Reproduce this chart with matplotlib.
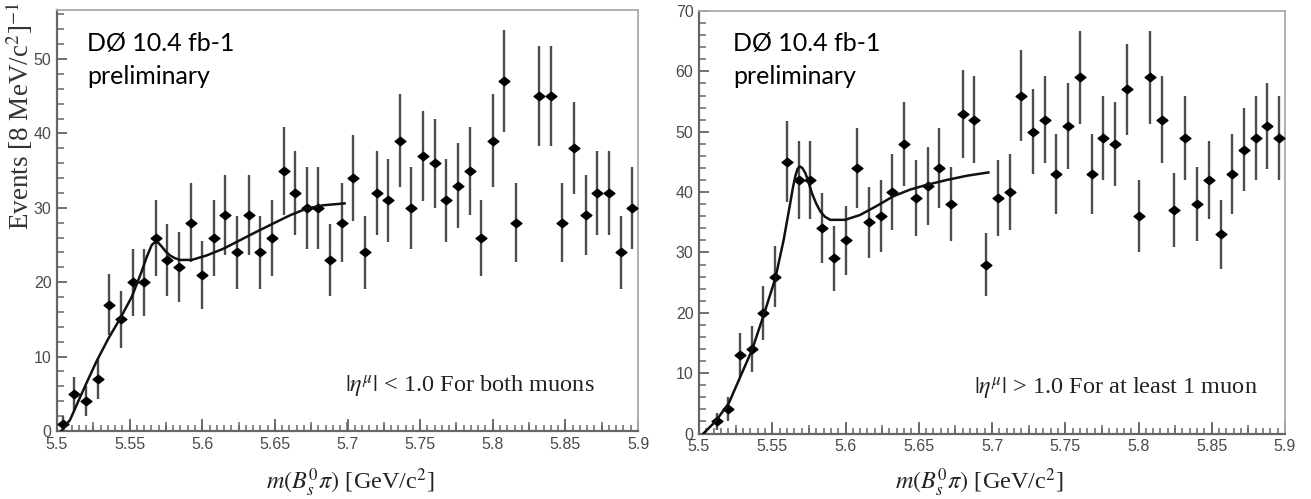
import numpy as np
import matplotlib
matplotlib.use("Agg")
import matplotlib.pyplot as plt
from matplotlib.ticker import MultipleLocator, FormatStrFormatter, NullFormatter
from matplotlib.path import Path

# Data (8 MeV bins)
mass_left = [5.504, 5.512, 5.520, 5.528, 5.536, 5.544, 5.552, 5.560, 5.568, 5.576,
             5.584, 5.592, 5.600, 5.608, 5.616, 5.624, 5.632, 5.640, 5.648, 5.656,
             5.664, 5.672, 5.680, 5.688, 5.696, 5.704, 5.712, 5.720, 5.728, 5.736,
             5.744, 5.752, 5.760, 5.768, 5.776, 5.784, 5.792, 5.800, 5.808, 5.816,
             5.832, 5.840, 5.848, 5.856, 5.864, 5.872, 5.880, 5.888, 5.896]
events_left = [1, 5, 4, 7, 17, 15, 20, 20, 26, 23,
               22, 28, 21, 26, 29, 24, 29, 24, 26, 35,
               32, 30, 30, 23, 28, 34, 24, 32, 31, 39,
               30, 37, 36, 31, 33, 35, 26, 39, 47, 28,
               45, 45, 28, 38, 29, 32, 32, 24, 30]

mass_right = [5.512, 5.520, 5.528, 5.536, 5.544, 5.552, 5.560, 5.568, 5.576, 5.584,
              5.592, 5.600, 5.608, 5.616, 5.624, 5.632, 5.640, 5.648, 5.656, 5.664,
              5.672, 5.680, 5.688, 5.696, 5.704, 5.712, 5.720, 5.728, 5.736, 5.744,
              5.752, 5.760, 5.768, 5.776, 5.784, 5.792, 5.800, 5.808, 5.816, 5.824,
              5.832, 5.840, 5.848, 5.856, 5.864, 5.872, 5.880, 5.888, 5.896]
events_right = [2, 4, 13, 14, 20, 26, 45, 42, 42, 34,
                29, 32, 44, 35, 36, 40, 48, 39, 41, 44,
                38, 53, 52, 28, 39, 40, 56, 50, 52, 43,
                51, 59, 43, 49, 48, 57, 36, 59, 52, 37,
                49, 38, 42, 33, 43, 47, 49, 51, 49]

# fit curves, points
fit_left_mass = [5.503, 5.509, 5.5158, 5.5216, 5.5273, 5.5353, 5.5434, 5.5514, 5.5578,
                 5.5618, 5.5652, 5.5675, 5.5698, 5.5721, 5.575, 5.5778, 5.581, 5.5847,
                 5.5927, 5.603, 5.6145, 5.626, 5.6375, 5.6489, 5.6604, 5.6719, 5.6833,
                 5.698]
fit_left_events = [0.0, 1.5, 4.5, 7.0, 9.4, 12.4, 15.1, 18.0, 21.2,
                   23.4, 25.0, 25.4, 25.3, 24.8, 24.1, 23.6, 23.25, 23.0,
                   23.0, 23.6, 24.5, 25.65, 26.8, 27.9, 29.0, 29.9, 30.35,
                   30.6]

fit_right_mass = [5.503, 5.5111, 5.5203, 5.5282, 5.5362, 5.5442, 5.5521, 5.5578, 5.5623,
                  5.564, 5.5657, 5.5672, 5.5687, 5.5705, 5.5726, 5.5748, 5.5771, 5.580,
                  5.5828, 5.586, 5.5896, 5.5997, 5.6099, 5.6213, 5.6326, 5.644, 5.6554,
                  5.6691, 5.6827, 5.6975]
fit_right_events = [0.0, 1.96, 5.0, 9.4, 13.85, 19.65, 25.7, 32.1, 38.2,
                    40.6, 42.6, 43.8, 44.25, 44.0, 43.15, 41.6, 39.8, 38.1,
                    36.8, 35.9, 35.4, 35.4, 36.2, 37.7, 39.3, 40.4, 41.2,
                    42.0, 42.7, 43.25]

plt.rcParams['font.family'] = ['Liberation Serif', 'DejaVu Serif']
plt.rcParams['mathtext.fontset'] = 'stix'

W, H = 1311, 499
fig = plt.figure(figsize=(W / 100, H / 100), dpi=100)

def px_rect(x0, y0, x1, y1):
    return [x0 / W, 1 - y1 / H, (x1 - x0) / W, (y1 - y0) / H]

# wide diamond like the ROOT markers
diamond = Path([(-1.15, 0), (0, 0.9), (1.15, 0), (0, -0.9), (-1.15, 0)],
               [Path.MOVETO, Path.LINETO, Path.LINETO, Path.LINETO, Path.CLOSEPOLY])

def panel(rect, mass, events, fmass, fevents, ymax, label):
    ax = fig.add_axes(rect)
    ax.errorbar(mass, events, yerr=np.sqrt(events), fmt='none', ecolor='#4d4d4d',
                elinewidth=1.7, capsize=0, zorder=2)
    ax.plot(mass, events, linestyle='none', marker=diamond, markersize=7.8,
            color='black', zorder=3)
    ax.plot(fmass, fevents, color='#111111', lw=1.8, zorder=4)
    ax.set_xlim(5.5, 5.9)
    ax.set_ylim(0, ymax)
    ax.xaxis.set_major_locator(MultipleLocator(0.05))
    ax.xaxis.set_minor_locator(MultipleLocator(0.005))
    ax.xaxis.set_major_formatter(FormatStrFormatter('%g'))
    ax.yaxis.set_major_locator(MultipleLocator(10))
    ax.yaxis.set_minor_locator(MultipleLocator(2))
    ax.tick_params(which='both', direction='in', color='#666666', top=False, right=False,
                   labelsize=11.5, labelcolor='#4a4a4a')
    ax.tick_params(axis='x', which='major', length=8.5, width=1.3, pad=4)
    ax.tick_params(axis='x', which='minor', length=4.2, width=1.1)
    ax.tick_params(axis='y', which='major', length=7.5, width=1.3, pad=4)
    ax.tick_params(axis='y', which='minor', length=5, width=1.1)
    for t in ax.get_xticklabels() + ax.get_yticklabels():
        t.set_family('Liberation Sans')
    # middle-level ticks every 0.025
    sec = ax.secondary_xaxis('bottom')
    sec.xaxis.set_major_locator(MultipleLocator(0.025))
    sec.xaxis.set_major_formatter(NullFormatter())
    sec.tick_params(direction='in', length=6.3, width=1.1, color='#666666')
    sec.spines['bottom'].set_visible(False)
    for s in ('left', 'bottom'):
        ax.spines[s].set_color('#666666')
        ax.spines[s].set_linewidth(1.6)
    for s in ('top', 'right'):
        ax.spines[s].set_color('#aaaaaa')
        ax.spines[s].set_linewidth(1.3)
    ax.text(0.711, 0.092, label, transform=ax.transAxes, ha='center', va='baseline',
            fontsize=17.5, color='#222222')
    return ax

ax1 = panel(px_rect(57, 10, 638, 431), mass_left, events_left,
            fit_left_mass, fit_left_events, 56.6,
            r'$|\eta^{\mu}|$ < 1.0 For both muons')
ax2 = panel(px_rect(699, 11, 1285, 433.5), mass_right, events_right,
            fit_right_mass, fit_right_events, 70,
            r'$|\eta^{\mu}|$ > 1.0 For at least 1 muon')

xlab = r'$m(B_{s}^{0}\pi)$ [GeV/c$^{2}$]'
fig.text(350 / W, 1 - 483 / H, xlab, ha='center', va='center', fontsize=17.5, color='#222222')
fig.text(979 / W, 1 - 483 / H, xlab, ha='center', va='center', fontsize=17.5, color='#222222')
fig.text(19 / W, 1 - 2 / H, r'Events [8 MeV/c$^{2}$]$^{-1}$', rotation=90,
         ha='center', va='top', fontsize=19.5, color='#333333')

for x0 in (87, 733):
    fig.text(x0 / W, 1 - 51 / H, 'DØ 10.4 fb-1', family='Lato', fontsize=18,
             ha='left', va='baseline', color='black')
    fig.text(x0 / W, 1 - 84 / H, 'preliminary', family='Lato', fontsize=18,
             ha='left', va='baseline', color='black')

fig.savefig('out.png', dpi=100)
